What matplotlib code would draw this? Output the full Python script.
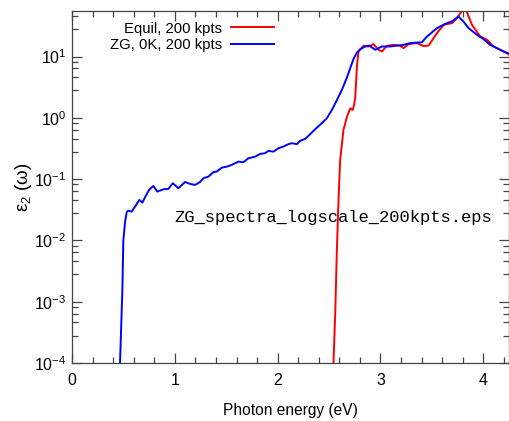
import numpy as np
import matplotlib
matplotlib.use('Agg')
import matplotlib.pyplot as plt
from matplotlib.ticker import FixedLocator, NullFormatter

# photon energy (eV) and eps2
equil_e = [2.535, 2.543, 2.560, 2.576, 2.592, 2.608, 2.640, 2.674, 2.706, 2.732,
           2.745, 2.754, 2.771, 2.786, 2.835, 2.884, 2.932, 2.981, 3.014, 3.063,
           3.127, 3.192, 3.224, 3.273, 3.355, 3.419, 3.468, 3.549, 3.614, 3.696,
           3.744, 3.793, 3.815, 3.839, 3.890, 3.971, 4.036, 4.100, 4.198, 4.263]
equil_eps = [2e-5, 1e-4, 6.5e-4, 7e-3, 0.046, 0.206, 0.635, 1.04, 1.43, 1.35,
             1.69, 2.1, 6.9, 12.1, 15.0, 14.6, 15.9, 12.9, 12.1, 15.0,
             15.5, 15.0, 13.7, 15.9, 16.6, 14.8, 15.1, 24.1, 32.9, 35.1,
             42.4, 56.0, 62.0, 54.0, 32.9, 21.2, 18.8, 14.6, 12.1, 10.5]

zg_e = [0.460, 0.467, 0.490, 0.499, 0.516, 0.532, 0.548, 0.580, 0.613, 0.655,
        0.684, 0.717, 0.749, 0.791, 0.830, 0.889, 0.937, 0.980, 1.035, 1.100,
        1.148, 1.197, 1.246, 1.278, 1.327, 1.375, 1.408, 1.457, 1.506, 1.554,
        1.618, 1.667, 1.716, 1.781, 1.830, 1.878, 1.911, 1.959, 2.008, 2.056,
        2.105, 2.138, 2.187, 2.219, 2.268, 2.316, 2.365, 2.430, 2.479, 2.528,
        2.577, 2.625, 2.674, 2.706, 2.738, 2.771, 2.803, 2.852, 2.891, 2.949,
        3.014, 3.095, 3.160, 3.224, 3.290, 3.403, 3.452, 3.549, 3.645, 3.698,
        3.757, 3.808, 3.854, 3.939, 4.003, 4.068, 4.133, 4.198, 4.263]
zg_eps = [2e-5, 1e-4, 1.56e-3, 0.0098, 0.020, 0.029, 0.0306, 0.0295, 0.0356, 0.0458,
          0.0414, 0.0532, 0.0667, 0.0775, 0.0625, 0.0684, 0.0692, 0.0857, 0.0711, 0.090,
          0.0836, 0.0805, 0.090, 0.1035, 0.110, 0.130, 0.133, 0.154, 0.160, 0.171,
          0.193, 0.189, 0.219, 0.233, 0.258, 0.265, 0.289, 0.281, 0.320, 0.340,
          0.372, 0.386, 0.372, 0.421, 0.454, 0.541, 0.653, 0.818, 0.987, 1.35,
          1.96, 2.86, 4.57, 6.47, 9.17, 11.6, 13.2, 14.6, 15.1, 12.9,
          14.6, 14.6, 15.1, 15.5, 16.6, 17.1, 21.2, 29.1, 35.1, 37.6,
          45.0, 37.2, 29.4, 22.6, 19.2, 15.5, 13.7, 12.1, 10.9]

labels = ['Equil, 200 kpts', 'ZG, 0K, 200 kpts']
note = 'ZG_spectra_logscale_200kpts.eps'

plt.rcParams['font.family'] = ['Liberation Sans', 'DejaVu Sans']
plt.rcParams['mathtext.fontset'] = 'custom'
plt.rcParams['mathtext.rm'] = 'Liberation Sans'
plt.rcParams['mathtext.it'] = 'Liberation Sans:italic'

fig = plt.figure(figsize=(5.10, 4.21), dpi=100)
ax = fig.add_axes([72 / 510, 58 / 421, 437 / 510, 352.3 / 421])

ax.plot(equil_e, equil_eps, color='#ff0000', lw=1.4, label=labels[0])
ax.plot(zg_e, zg_eps, color='#0000ff', lw=1.4, label=labels[1])

ax.set_yscale('log')
ax.set_xlim(0, 4.25)
ax.set_ylim(1e-4, 56)

# ticks like gnuplot: inward, mirrored, linear minor ticks inside each decade
ax.set_xticks([0, 1, 2, 3, 4])
ax.xaxis.set_minor_locator(FixedLocator(np.arange(0, 4.3, 0.2)))
ax.set_yticks([1e-4, 1e-3, 1e-2, 1e-1, 1, 10])
minor_y = [10.0 ** d * (1 + 1.8 * k) for d in range(-4, 2) for k in range(1, 5)]
ax.yaxis.set_minor_locator(FixedLocator(minor_y))
ax.yaxis.set_minor_formatter(NullFormatter())
edge = '#444444'
ax.tick_params(which='both', direction='in', top=True, right=True, color=edge, width=0.9)
ax.tick_params(which='major', length=7, labelsize=11.5)
ax.tick_params(which='minor', length=4)
ax.tick_params(axis='x', pad=7)
ax.tick_params(axis='y', pad=4)
for s in ax.spines.values():
    s.set_color(edge)
    s.set_linewidth(0.9)

ax.set_xlabel('Photon energy (eV)', fontsize=11.2, labelpad=11)
ax.set_ylabel('ε$_2$ (ω)', fontsize=13.5, labelpad=0)

ax.text(1.0, 0.024, note, family=['Liberation Mono', 'DejaVu Sans Mono'],
        fontsize=12.3, ha='left', va='center')

ax.legend(loc='upper right', bbox_to_anchor=(0.479, 0.99), frameon=False,
          markerfirst=False, fontsize=10.7, handlelength=2.9, handletextpad=0.6,
          labelspacing=0.15, borderaxespad=0.2, borderpad=0.3)

fig.savefig('out.png', dpi=100)
